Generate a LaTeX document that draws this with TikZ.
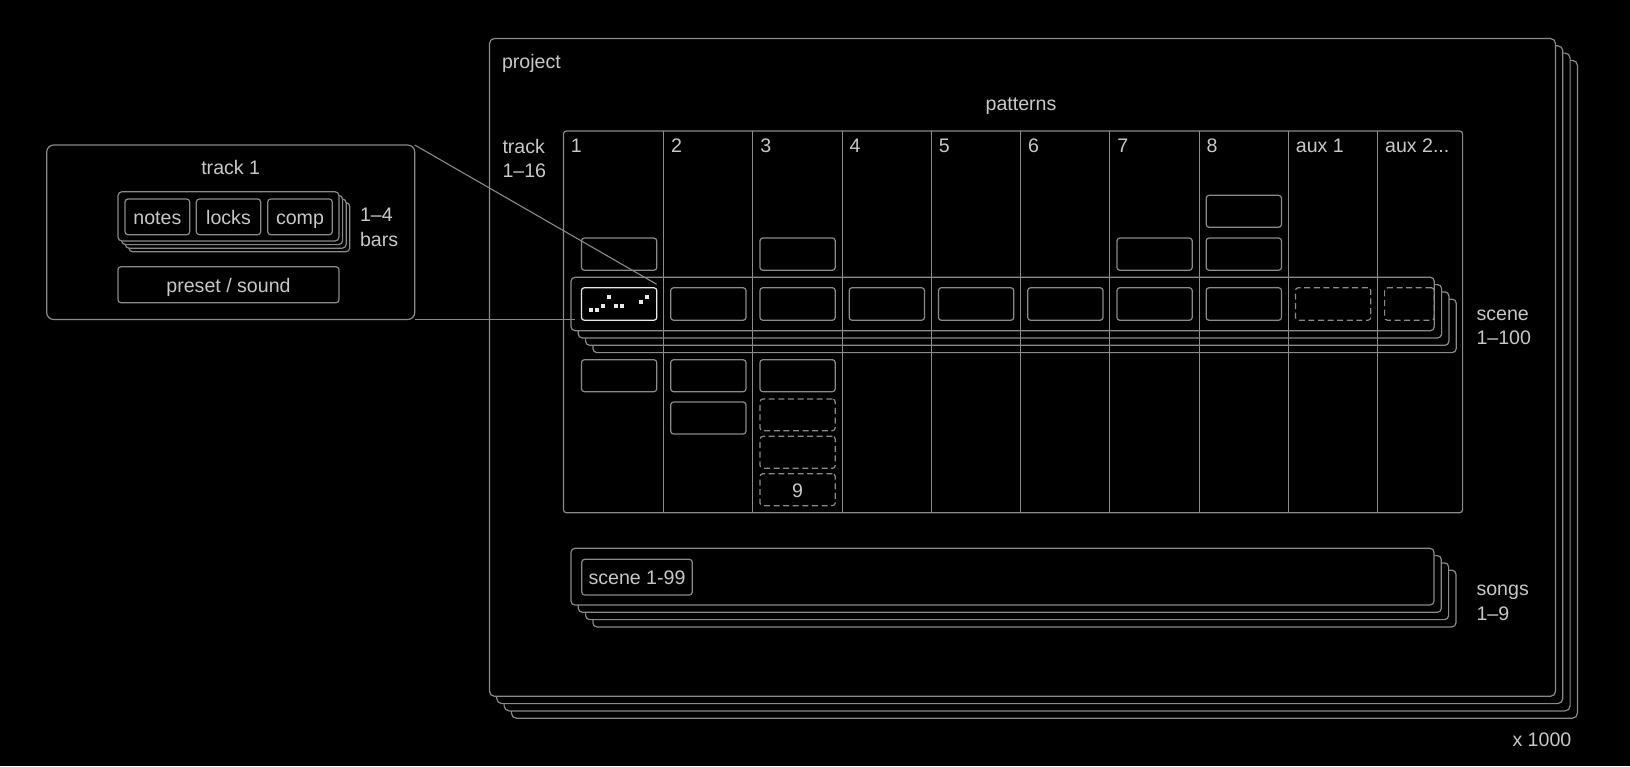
\documentclass[tikz,border=0pt]{standalone}
\usepackage{fontspec}
\setmainfont{Liberation Sans}
\definecolor{ln}{HTML}{8A8A8A}
\definecolor{tx}{HTML}{C8C8C8}
\definecolor{hi}{HTML}{E8E8E8}
\newcommand\fsz{\fontsize{19.6}{23}\selectfont}
\tikzset{
  every node/.style={inner sep=0pt, outer sep=0pt},
  frame/.style={draw=ln, line width=1.2pt, fill=black, rounded corners=5pt},
  tframe/.style={draw=ln, line width=1.2pt, fill=black, rounded corners=7pt},
  sframe/.style={draw=ln, line width=1.2pt, fill=black, rounded corners=4pt},
  gridbox/.style={draw=ln, line width=1.2pt, rounded corners=3pt},
  gline/.style={draw=ln, line width=1.2pt},
  pbox/.style={draw=ln, line width=1.2pt, rounded corners=3pt, text=tx, font=\fsz, text height=15pt, text depth=0pt},
  dbox/.style={pbox, dash pattern=on 6pt off 3.6pt},
  hbox/.style={pbox, draw=hi},
  lbl/.style={text=tx, font=\fsz, anchor=base west},
  clbl/.style={text=tx, font=\fsz, anchor=base},
  conn/.style={draw=ln, line width=1.1pt},
}
\newcommand\pb[7]{\node[#1, minimum width={#4-#2}, minimum height={#5-#3}] (#6) at ({(#2+#4)/2},{(#3+#5)/2}) {#7};}
\begin{document}
\begin{tikzpicture}[x=1pt,y=-1pt]
\fill[black] (0,0) rectangle (1630,766);
\useasboundingbox (0,0) rectangle (1630,766);
% project stack
\foreach \k in {3,2,1}{\pgfmathsetmacro\o{7.3*\k}
  \draw[frame] (489.5+\o,38.5+\o) rectangle (1555.5+\o,696.3+\o);}
\pb{frame}{489.5}{38.5}{1555.5}{696.3}{project}{}
\node[lbl] (tproject) at (502,68.3) {project};
\node[clbl] (tpatterns) at (1021,110.7) {patterns};
\node[lbl] (ttrack) at (502.5,153.3) {track};
\node[lbl] (ttrackn) at (502.5,177.7) {1–16};
% scene stack
\foreach \k in {3,2,1}{\pgfmathsetmacro\o{7.3*\k}
  \draw[sframe] (571+\o,277.3+\o) rectangle (1434.3+\o,330.7+\o);}
\pb{sframe}{571}{277.3}{1434.3}{330.7}{scene}{}
% songs stack
\foreach \k in {3,2,1}{\pgfmathsetmacro\o{7.3*\k}
  \draw[sframe] (571+\o,548.3+\o) rectangle (1434+\o,605+\o);}
\pb{sframe}{571}{548.3}{1434}{605}{songs}{}
\pb{pbox}{581.7}{559.3}{692.3}{595}{s199}{scene 1-99}
% grid
\pb{gridbox}{563.4}{131}{1462.6}{512.7}{grid}{}
\foreach \x in {663.6,752.85,842.1,931.35,1020.6,1109.85,1199.1,1288.35,1377.6}
  \draw[gline] (\x,131) -- (\x,512.7);
\foreach \x/\t [count=\i] in {563.4/1,663.6/2,752.85/3,842.1/4,931.35/5,1020.6/6,1109.85/7,1199.1/8,1288.35/aux 1}
  \node[lbl] (col\i) at (\x+7.5,152.5) {\t};
\node[lbl] (col10) at (1385.1,152.5) {aux 2...};
% row B
\pb{pbox}{1206.15}{195.3}{1281.55}{227.3}{b8}{}
% row A
\foreach \r/\n in {663.6/a1,842.1/a3,1199.1/a7,1288.35/a8}{
  \pgfmathsetmacro\xa{\r-82.2}\pgfmathsetmacro\xb{\r-6.8}
  \pb{pbox}{\xa}{238}{\xb}{270.3}{\n}{}}
% scene row
\pb{hbox}{581.4}{287.7}{656.8}{320.3}{s1}{}
\foreach \r/\n in {752.85/s2,842.1/s3,931.35/s4,1020.6/s5,1109.85/s6,1199.1/s7,1288.35/s8}{
  \pgfmathsetmacro\xa{\r-82.2}\pgfmathsetmacro\xb{\r-6.8}
  \pb{pbox}{\xa}{287.7}{\xb}{320.3}{\n}{}}
\pb{dbox}{1295.4}{287.7}{1370.8}{320.3}{s9}{}
\pb{dbox}{1384.6}{287.7}{1434.3}{320.3}{s10}{}
\foreach \x/\y in {591/310.3,597/310.3,603.3/305.7,609.3/297.3,615.7/305.7,621.7/305.7,641/302,647.3/297.3}
  \fill[hi] (\x-2.1,\y-2.1) rectangle (\x+2.1,\y+2.1);
% rows below
\foreach \r/\n in {663.6/c1,752.85/c2,842.1/c3}{
  \pgfmathsetmacro\xa{\r-82.2}\pgfmathsetmacro\xb{\r-6.8}
  \pb{pbox}{\xa}{359.7}{\xb}{391.7}{\n}{}}
\pb{pbox}{670.65}{402}{746.05}{434}{d2}{}
\pb{dbox}{759.9}{399}{835.3}{430.7}{d3}{}
\pb{dbox}{759.9}{436.3}{835.3}{468.3}{e3}{}
\pb{dbox}{759.9}{473.7}{835.3}{505.7}{f3}{9}
% track detail
\pb{tframe}{46.7}{145}{414.7}{319.5}{track}{}
\node[clbl] (ttrack1) at (230.7,174) {track 1};
\foreach \k in {3,2,1}{\pgfmathsetmacro\o{3.6*\k}
  \draw[sframe] (118+\o,191.7+\o) rectangle (339+\o,241+\o);}
\pb{sframe}{118}{191.7}{339}{241}{bars}{}
\pb{pbox}{125}{199}{189.7}{234.7}{notes}{notes}
\pb{pbox}{196.3}{199}{260.7}{234.7}{locks}{locks}
\pb{pbox}{267.7}{199}{332.3}{234.7}{comp}{comp}
\pb{pbox}{118}{266.7}{339}{302.7}{preset}{preset / sound}
\node[lbl] (tbars) at (360,221) {1–4};
\node[lbl] (tbars2) at (360,246) {bars};
% connectors
\coordinate (zt) at (656.7,284.3);
\coordinate (zb) at (575,319.5);
\draw[conn] (track.north east) -- (zt);
\draw[conn] (track.south east) -- (zb);
% side labels
\node[lbl] (tscene) at (1476.5,320) {scene};
\node[lbl] (tscenen) at (1476.5,344.3) {1–100};
\node[lbl] (tsongs) at (1476.5,595) {songs};
\node[lbl] (tsongsn) at (1476.5,620) {1–9};
\node[lbl] (tx1000) at (1512.5,746.7) {x 1000};
\end{tikzpicture}
\end{document}
